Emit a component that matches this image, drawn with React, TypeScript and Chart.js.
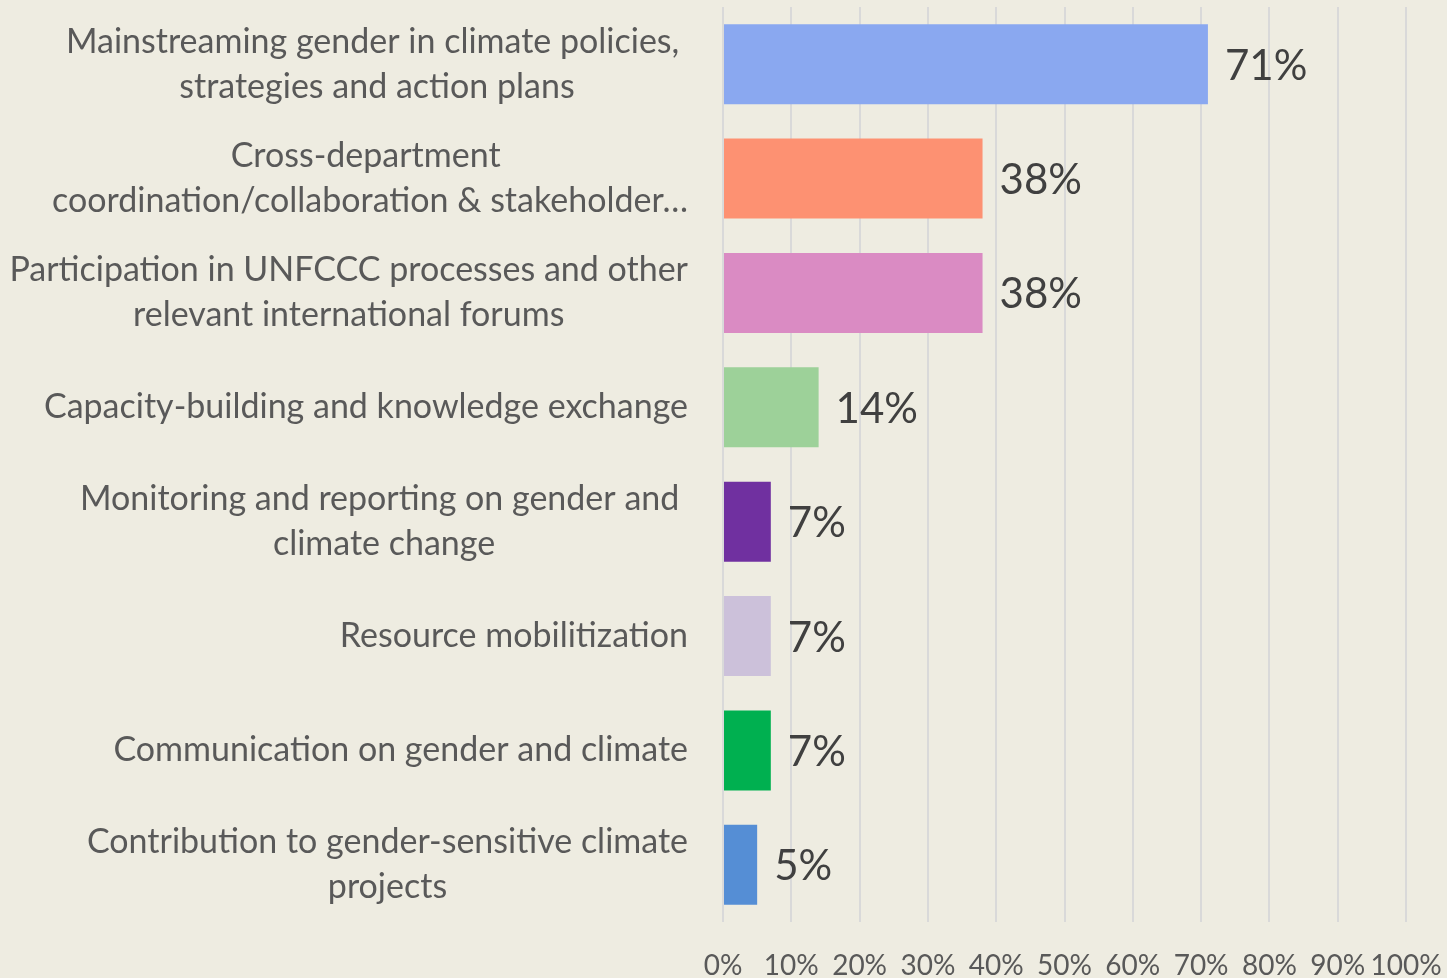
import React, { useEffect, useRef } from "react";
import { Chart, registerables } from "chart.js";

Chart.register(...registerables);

const categories: string[][] = [
  ["Mainstreaming gender in climate policies, ", "strategies and action plans"],
  ["Cross-department ", "coordination/collaboration & stakeholder…"],
  ["Participation in UNFCCC processes and other", "relevant international forums"],
  ["Capacity-building and knowledge exchange"],
  ["Monitoring and reporting on gender and ", "climate change"],
  ["Resource mobilitization"],
  ["Communication on gender and climate"],
  ["Contribution to gender-sensitive climate", "projects"],
];
const values: number[] = [71, 38, 38, 14, 7, 7, 7, 5];
const barColors: string[] = [
  "#8AA8F0",
  "#FD9172",
  "#DA8BC3",
  "#9DD199",
  "#7030A0",
  "#CCC1DA",
  "#00B050",
  "#558ED5",
];
const tickValues: number[] = [0, 10, 20, 30, 40, 50, 60, 70, 80, 90, 100];

const FONT = "Lato, 'Open Sans', sans-serif";
const BG = "#EEECE1";

export default function App() {
  const ref = useRef<HTMLCanvasElement | null>(null);

  useEffect(() => {
    if (!ref.current) return;
    const bgPlugin = {
      id: "bg",
      beforeDraw(chart: any) {
        const { ctx, width, height } = chart;
        ctx.save();
        ctx.fillStyle = BG;
        ctx.fillRect(0, 0, width, height);
        ctx.restore();
      },
    };
    const labelPlugin = {
      id: "catLabels",
      afterDraw(chart: any) {
        const { ctx } = chart;
        const y = chart.scales.y;
        const x = chart.scales.x;
        ctx.save();
        ctx.fillStyle = "#595959";
        ctx.textBaseline = "middle";
        ctx.textAlign = "center";
        ctx.font = `34px ${FONT}`;
        const right = x.left - 35;
        const lh = 45;
        categories.forEach((lines, i) => {
          const cy = y.getPixelForValue(i);
          const w = Math.max(...lines.map((l) => ctx.measureText(l).width));
          const cx = right - w / 2;
          lines.forEach((l, k) => {
            ctx.fillText(l, cx, cy + (k - (lines.length - 1) / 2) * lh);
          });
        });
        // data labels
        ctx.fillStyle = "#404040";
        ctx.textAlign = "left";
        ctx.font = `42px ${FONT}`;
        values.forEach((v, i) => {
          const px = x.getPixelForValue(v);
          const cy = y.getPixelForValue(i);
          ctx.fillText(v + "%", px + 17, cy + 2);
        });
        ctx.restore();
      },
    };
    const chart = new Chart(ref.current, {
      type: "bar",
      data: {
        labels: categories.map((c) => c.join("")),
        datasets: [
          {
            data: values,
            backgroundColor: barColors,
            categoryPercentage: 1,
            barPercentage: 0.7,
          },
        ],
      },
      options: {
        indexAxis: "y",
        animation: false,
        responsive: false,
        layout: { padding: { top: 7, right: 41, left: 0, bottom: 0 } },
        plugins: { legend: { display: false }, tooltip: { enabled: false } },
        scales: {
          x: {
            min: 0,
            max: 100,
            afterBuildTicks(scale: any) {
              scale.ticks = tickValues.map((v) => ({ value: v }));
            },
            ticks: {
              callback: (v: any) => v + "%",
              font: { family: FONT, size: 28 },
              color: "#595959",
              padding: 27,
              maxRotation: 0,
              autoSkip: false,
            },
            grid: { color: "#D9D9D9", lineWidth: 2, drawTicks: false },
            border: { display: false },
            afterFit(scale: any) {
              scale.height = 56;
              scale.paddingLeft = 0;
              scale.paddingRight = 0;
            },
          },
          y: {
            ticks: { display: false },
            grid: { display: false },
            border: { display: false },
            afterFit(scale: any) {
              scale.width = 723;
              scale.paddingTop = 0;
              scale.paddingBottom = 0;
            },
          },
        },
      },
      plugins: [bgPlugin, labelPlugin],
    });
    return () => chart.destroy();
  }, []);

  return (
    <div style={{ position: "fixed", left: 0, top: 0, width: 1447, height: 978, background: BG }}>
      <canvas ref={ref} width={1447} height={978} style={{ display: "block" }} />
    </div>
  );
}
